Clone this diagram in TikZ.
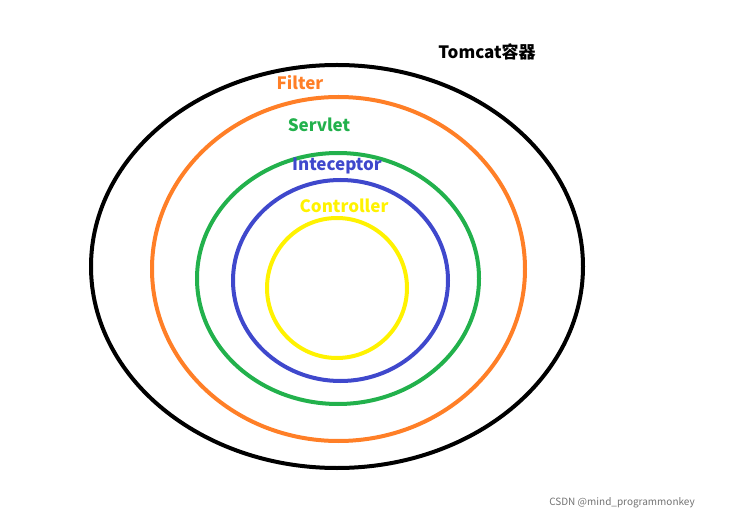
\documentclass[tikz,border=0pt]{standalone}
\usepackage{fontspec}
\setmainfont{Noto Sans CJK SC}
\definecolor{cor}{HTML}{FF7F27}
\definecolor{cgr}{HTML}{22B14C}
\definecolor{cbl}{HTML}{3F48CC}
\definecolor{cye}{HTML}{FFF200}
\begin{document}
\begin{tikzpicture}[x=1pt,y=-1pt,
  ring/.style={line width=4pt},
  lbl/.style={font=\fontsize{17}{20}\selectfont\bfseries, inner sep=0pt}]
\useasboundingbox (0,0) rectangle (739,521);
\draw[ring,black] (337,266.5) ellipse [x radius=246, y radius=201.5];
\draw[ring,cor] (338.5,269) ellipse [x radius=186.5, y radius=172];
\draw[ring,cgr] (338,278.5) ellipse [x radius=141, y radius=125.5];
\draw[ring,cbl] (340.5,280.5) ellipse [x radius=107.5, y radius=100.5];
\draw[ring,cye] (337,288) circle [radius=70];
\node[lbl,black] (tomcat) at (487,52) {Tomcat容器};
\node[lbl,cor] (filter) at (300,83) {Filter};
\node[lbl,cgr] (servlet) at (319,125) {Servlet};
\node[lbl,cbl] (intc) at (337,166) {Inteceptor};
\node[lbl,cye] (ctrl) at (344,206) {Controller};
\node[font=\fontsize{10}{12}\selectfont, text=black!55, inner sep=0pt] (wm) at (622,503) {CSDN @mind\_programmonkey};
\end{tikzpicture}
\end{document}
